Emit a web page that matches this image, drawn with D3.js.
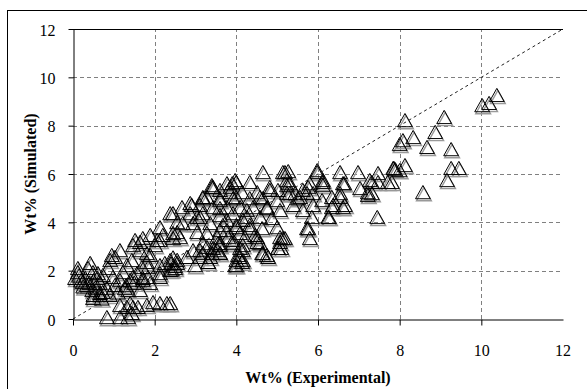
<!DOCTYPE html>
<html>
<head>
<meta charset="utf-8">
<script src="https://cdn.jsdelivr.net/npm/d3@7"></script>
<style>
  html, body { margin: 0; padding: 0; background: #fff; }
  svg { display: block; }
</style>
</head>
<body>
<svg id="chart" width="587" height="389"></svg>
<script>
const expt = [
  8.13, 9.09, 8.87, 8.33, 8.08, 8.00, 8.67, 9.26, 8.13, 7.86, 8.00, 9.26, 9.45, 9.16, 8.57, 7.81, 10.02, 10.19, 10.38,
  5.19, 5.27, 5.98, 6.54, 6.98, 7.47, 7.89, 6.12, 6.12, 6.64, 7.27, 7.47, 7.71, 7.03, 7.22, 7.22, 6.54, 6.54, 6.34, 6.10,
  6.66, 6.37, 5.88, 5.76, 5.63, 5.31, 5.24, 5.44, 5.51, 5.88, 5.39, 5.85, 6.27, 7.45, 5.76, 5.80, 5.14, 5.10,
  4.65, 5.14, 3.40, 3.90, 4.00, 4.33, 4.82, 5.02, 5.24, 3.85, 4.14, 4.51, 3.18, 3.60, 4.00, 4.33, 4.65, 5.00, 2.67, 2.91,
  3.11, 3.43, 3.77, 4.09, 4.41, 4.75, 5.07, 2.45, 2.87, 3.18, 3.60, 3.92, 4.26, 4.58, 4.87, 2.55, 2.94, 3.36, 3.67, 4.00,
  4.33, 2.55, 3.04, 3.77, 4.09, 4.46, 3.53, 3.80, 4.21, 5.07, 3.18, 3.60, 4.16, 4.58, 2.45,
  2.99, 3.31, 3.18, 3.40, 3.60, 3.43, 4.00, 4.09, 4.16, 4.09, 4.65, 4.78, 5.02, 4.51, 5.07, 2.38, 2.40, 2.45, 2.50, 2.55, 2.42,
  0.12, 0.05, 0.24, 0.37, 0.34, 0.49, 0.61, 0.73, 0.66, 0.47, 0.86, 0.91, 1.03, 1.15, 0.98, 0.73, 0.66, 0.83, 1.03, 1.15,
  1.22, 1.32, 1.44, 1.47, 1.64, 1.40, 1.27, 1.57, 1.69, 1.81, 1.89, 2.01, 2.13, 1.71, 1.84, 2.13, 2.25, 2.38, 2.13, 2.50,
  1.15, 1.32, 1.40, 1.47, 1.59, 1.81, 1.96, 2.13, 2.30, 0.83, 1.15, 1.35, 1.44,
  1.52, 0.95, 0.42, 0.12, 2.13, 2.38, 1.89, 1.71, 1.64, 1.81, 2.06, 2.20, 2.45, 2.87, 3.18, 3.40, 3.60, 3.77, 3.97, 3.04,
  2.69, 2.62, 2.13, 2.38, 2.55, 2.79, 2.94, 3.11, 3.36, 3.53, 3.28, 3.60, 3.92, 4.00, 1.84, 1.71, 1.47, 1.35, 1.89, 1.64,
  0.66, 0.49,
  5.98, 7.84, 3.43, 3.85, 4.82, 5.24, 5.80, 6.12, 6.61, 7.32, 7.32, 6.34, 6.61, 6.25, 5.73, 5.19, 5.02, 4.63, 4.75, 4.16,
  4.04, 4.14, 3.97, 3.31, 3.60, 3.11, 3.55, 3.92, 4.51, 3.28, 3.60, 4.00, 4.33, 4.63, 5.00, 3.77, 4.16, 3.11, 3.60, 4.26,
  4.75, 5.63, 5.56, 5.31, 5.73, 4.58, 3.92, 3.28, 3.60,
  0.20, 0.30, 0.40, 0.50, 0.60, 0.15, 0.25, 0.55, 0.50, 0.70, 0.90, 1.10, 1.30, 1.50
];
const sim = [
  8.23, 8.36, 7.74, 7.53, 7.40, 7.24, 7.12, 7.03, 6.37, 6.25, 6.16, 6.25, 6.25, 5.75, 5.25, 5.67, 8.85, 8.94, 9.27,
  6.08, 6.12, 6.08, 6.08, 6.08, 6.04, 6.20, 5.75, 5.54, 5.62, 5.75, 5.67, 5.67, 5.42, 5.25, 5.13, 5.21, 5.05, 5.05, 4.92,
  4.72, 4.72, 5.21, 5.46, 5.34, 5.62, 5.75, 5.21, 5.00, 4.72, 4.72, 4.22, 4.22, 4.22, 3.76, 3.35, 3.35, 2.94,
  6.08, 6.08, 5.46, 5.62, 5.67, 5.67, 5.34, 5.34, 5.21, 5.25, 5.25, 5.25, 5.00, 5.00, 5.05, 5.00, 5.00, 4.92, 4.63, 4.72,
  4.72, 4.63, 4.63, 4.63, 4.63, 4.59, 4.51, 4.38, 4.38, 4.38, 4.30, 4.38, 4.22, 4.22, 4.18, 4.01, 3.97, 3.97, 3.89, 3.89,
  3.89, 3.60, 3.60, 3.68, 3.56, 3.48, 3.39, 3.39, 3.39, 3.39, 3.14, 3.14, 3.06, 3.14, 3.35,
  2.23, 2.36, 2.73, 2.73, 2.73, 2.94, 2.23, 2.57, 2.44, 2.94, 2.73, 2.57, 2.94, 3.19, 3.19, 0.66, 2.30, 2.55, 2.20, 2.45, 2.05,
  1.94, 1.70, 1.53, 2.11, 1.41, 1.94, 1.90, 1.82, 1.49, 1.20, 2.11, 2.44, 2.57, 2.85, 1.74, 1.12, 0.99, 1.28, 1.41, 1.61,
  1.94, 2.23, 2.44, 3.06, 3.19, 1.61, 1.28, 1.90, 2.15, 2.36, 2.65, 3.06, 3.27, 1.70, 1.74, 2.23, 2.32, 2.44, 1.90, 2.11,
  0.58, 0.50, 0.66, 0.50, 0.50, 0.58, 0.70, 0.66, 0.66, 0.08, 0.08, 0.08, 0.25,
  3.27, 2.65, 2.32, 2.11, 3.80, 4.38, 3.48, 3.35, 2.85, 2.73, 3.27, 3.48, 3.56, 4.80, 5.05, 5.54, 5.34, 5.62, 5.75, 4.22,
  3.97, 3.39, 1.74, 2.03, 2.32, 2.57, 2.85, 2.57, 2.57, 2.85, 2.98, 3.06, 3.14, 2.44, 2.15, 1.61, 1.74, 1.20, 1.49, 1.20,
  1.08, 0.87,
  6.16, 6.25, 5.46, 5.46, 5.46, 5.54, 5.62, 5.67, 5.62, 5.67, 5.21, 4.63, 4.63, 4.22, 3.76, 3.35, 2.94, 2.73, 2.65, 2.85,
  2.65, 2.36, 2.23, 2.36, 2.73, 2.85, 3.14, 3.27, 3.39, 3.56, 3.68, 3.80, 3.76, 3.76, 3.80, 4.10, 4.10, 4.22, 4.59, 4.51,
  4.63, 4.51, 5.05, 5.21, 5.21, 5.05, 5.00, 5.05, 4.92,
  1.60, 1.70, 1.50, 1.60, 1.70, 1.80, 1.35, 1.30, 1.00, 0.85, 1.00, 1.10, 1.40, 1.50
];
const ticks = [0, 2, 4, 6, 8, 10, 12];
const gridTicks = [2, 4, 6, 8, 10];
const xTitle = 'Wt% (Experimental)';
const yTitle = 'Wt% (Simulated)';

const points = expt.map((e, i) => ({ e, s: sim[i] }));

const svg = d3.select('#chart');
const x = d3.scaleLinear().domain([0, 12]).range([73, 563]);
const y = d3.scaleLinear().domain([0, 12]).range([319, 29]);

// outer chart frame (runs past right/bottom edge like the source)
svg.append('rect')
  .attr('x', 7.5).attr('y', 10.5)
  .attr('width', 620).attr('height', 420)
  .attr('fill', 'none').attr('stroke', '#000').attr('stroke-width', 1);

const grid = svg.append('g').attr('stroke', '#808080').attr('stroke-dasharray', '4,3').attr('stroke-width', 1);
grid.selectAll('.hg').data(gridTicks).enter().append('line')
  .attr('class', 'hg')
  .attr('x1', x(0)).attr('x2', x(12))
  .attr('y1', d => Math.round(y(d)) + 0.5).attr('y2', d => Math.round(y(d)) + 0.5);
grid.selectAll('.vg').data(gridTicks).enter().append('line')
  .attr('class', 'vg')
  .attr('y1', y(0)).attr('y2', y(12))
  .attr('x1', d => Math.round(x(d)) + 0.5).attr('x2', d => Math.round(x(d)) + 0.5);

// top border of plot
svg.append('line')
  .attr('x1', x(0)).attr('x2', x(12))
  .attr('y1', Math.round(y(12)) + 0.5).attr('y2', Math.round(y(12)) + 0.5)
  .attr('stroke', '#000');

// 1:1 line
svg.append('line')
  .attr('x1', x(0)).attr('y1', y(0))
  .attr('x2', x(12)).attr('y2', y(12))
  .attr('stroke', '#222').attr('stroke-width', 1)
  .attr('stroke-dasharray', '3,3');

// open triangle, centred on its bounding box like the spreadsheet marker
const triangle = {
  draw(ctx, size) {
    const h = Math.sqrt(size) * 0.68;
    const w = h * 1.12;
    ctx.moveTo(0, -h);
    ctx.lineTo(w, h);
    ctx.lineTo(-w, h);
    ctx.closePath();
  }
};
const sym = d3.symbol(triangle, 95);

const marks = svg.append('g');
marks.selectAll('.shadow').data(points).enter().append('path')
  .attr('class', 'shadow')
  .attr('d', sym)
  .attr('transform', d => `translate(${x(d.e) + 1},${y(d.s) + 2})`)
  .attr('fill', 'none').attr('stroke', '#999').attr('stroke-width', 1.4);
marks.selectAll('.tri').data(points).enter().append('path')
  .attr('class', 'tri')
  .attr('d', sym)
  .attr('transform', d => `translate(${x(d.e)},${y(d.s)})`)
  .attr('fill', 'none').attr('stroke', '#000').attr('stroke-width', 1);

const yAxis = d3.axisLeft(y).tickValues(ticks).tickSize(5).tickSizeOuter(0).tickPadding(13).tickFormat(d3.format('d'));
const xAxis = d3.axisBottom(x).tickValues(ticks.slice(0, -1)).tickSize(6).tickSizeOuter(0).tickPadding(19).tickFormat(d3.format('d'));

const gy = svg.append('g').attr('transform', `translate(${Math.round(x(0)) + 0.5},0)`).call(yAxis);
const gx = svg.append('g').attr('transform', `translate(0,${Math.round(y(0)) + 0.5})`).call(xAxis);
// the last x label sits without a tick
gx.append('text').attr('x', x(12)).attr('y', 19 + 6).attr('dy', '0.71em')
  .attr('text-anchor', 'middle').attr('fill', '#000').text('12');

[gx, gy].forEach(g => {
  g.selectAll('path, line').attr('stroke', '#000');
  g.selectAll('text')
    .style('font-family', '"Liberation Serif", "Times New Roman", serif')
    .style('font-size', '16px')
    .attr('fill', '#000');
});
gy.selectAll('.tick text').attr('dy', '0.38em');

svg.append('text')
  .attr('x', (x(0) + x(12)) / 2).attr('y', 383)
  .attr('text-anchor', 'middle')
  .style('font-family', '"Liberation Serif", "Times New Roman", serif')
  .style('font-size', '16px').style('font-weight', 'bold')
  .text(xTitle);

svg.append('text')
  .attr('transform', `translate(36,${(y(0) + y(12)) / 2}) rotate(-90)`)
  .attr('text-anchor', 'middle')
  .style('font-family', '"Liberation Serif", "Times New Roman", serif')
  .style('font-size', '16px').style('font-weight', 'bold')
  .text(yTitle);
</script>
</body>
</html>
